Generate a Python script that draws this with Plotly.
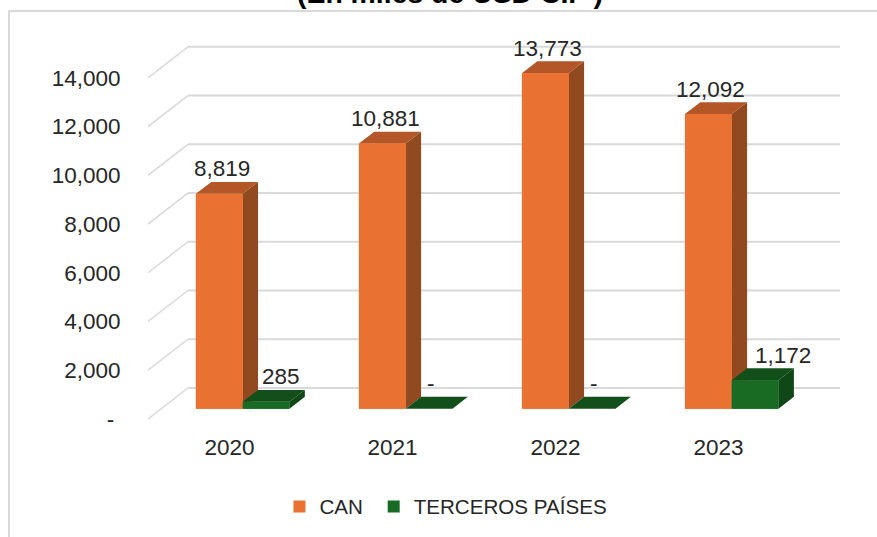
import plotly.graph_objects as go

# Data
years = ['2020', '2021', '2022', '2023']
can = [8819, 10881, 13773, 12092]
terceros = [285, 0, 0, 1172]
can_labels = ['8,819', '10,881', '13,773', '12,092']
terceros_labels = ['285', '-', '-', '1,172']
y_ticks = [0, 2000, 4000, 6000, 8000, 10000, 12000, 14000]
y_tick_labels = ['-\u00a0', '2,000', '4,000', '6,000', '8,000', '10,000', '12,000', '14,000']

# Fake 3D projection, in axis units (category spacing / y value)
WALL_DX = 0.245
WALL_DY = 1272
BAR_START = 0.33  # depth of the bar front, 0 = floor edge, 1 = back wall
BAR_DEPTH = 0.385
BAR_WIDTH = 0.287

FONT = 'Liberation Sans'
GREY = '#d9d9d9'
TEXT = '#262626'
TICK_SIZE = 22.5

bar_base = BAR_START * WALL_DY
bar_shift = BAR_START * WALL_DX
side_dx = BAR_DEPTH * WALL_DX
side_dy = BAR_DEPTH * WALL_DY


def faces(values, offset):
    # front, top and side polygons of each bar, separated by None
    front_x, front_y, top_x, top_y, side_x, side_y = [], [], [], [], [], []
    for i, v in enumerate(values):
        x0 = i + bar_shift + offset
        x1 = x0 + BAR_WIDTH
        y0 = bar_base
        y1 = bar_base + v
        front_x += [x0, x1, x1, x0, x0, None]
        front_y += [y0, y0, y1, y1, y0, None]
        top_x += [x0, x1, x1 + side_dx, x0 + side_dx, x0, None]
        top_y += [y1, y1, y1 + side_dy, y1 + side_dy, y1, None]
        side_x += [x1, x1 + side_dx, x1 + side_dx, x1, x1, None]
        side_y += [y0, y0 + side_dy, y1 + side_dy, y1, y0, None]
    return (front_x, front_y), (top_x, top_y), (side_x, side_y)


fig = go.Figure()

# trailing space on CAN sets the gap between the two legend entries
series = [
    ('CAN\u00a0', can, -BAR_WIDTH, '#E97132', '#B35628', '#914A1F'),
    ('TERCEROS PAÍSES', terceros, 0, '#196B24', '#134F1B', '#0F4716'),
]
for name, values, offset, front, top, side in series:
    fig.add_trace(go.Bar(
        x=list(range(len(years))),
        y=values,
        base=bar_base,
        width=BAR_WIDTH,
        offset=offset + bar_shift,
        name=name,
        marker=dict(color=front, line=dict(width=0)),
    ))
    # scatter draws above bars, so the front goes again to cover the neighbour's side
    front_poly, top_poly, side_poly = faces(values, offset)
    for poly, color in [(side_poly, side), (top_poly, top), (front_poly, front)]:
        fig.add_trace(go.Scatter(
            x=poly[0], y=poly[1], mode='lines', fill='toself', fillcolor=color,
            line=dict(width=0), hoverinfo='skip', showlegend=False,
        ))

# Gridlines run along the floor edge and then across the back wall
for tick in y_ticks:
    fig.add_shape(type='line', layer='below', x0=-0.5, y0=tick,
                  x1=-0.5 + WALL_DX, y1=tick + WALL_DY,
                  line=dict(color=GREY, width=1.5))
    fig.add_shape(type='line', layer='below', x0=-0.5 + WALL_DX, y0=tick + WALL_DY,
                  x1=3.5 + WALL_DX, y1=tick + WALL_DY,
                  line=dict(color=GREY, width=2))

# Data labels
can_nudge = [3, 3, 2, 2.5]
terceros_nudge = [14.5, 2, 2, 28]
for i in range(len(years)):
    x_can = i + bar_shift - BAR_WIDTH / 2
    x_ter = i + bar_shift + BAR_WIDTH / 2
    fig.add_annotation(x=x_can, y=bar_base + can[i], text=can_labels[i], showarrow=False,
                       xshift=can_nudge[i], yshift=25, font=dict(family=FONT, size=TICK_SIZE, color=TEXT))
    fig.add_annotation(x=x_ter, y=bar_base + terceros[i], text=terceros_labels[i], showarrow=False,
                       xshift=terceros_nudge[i], yshift=25, font=dict(family=FONT, size=TICK_SIZE, color=TEXT))

# Title, cut by the top of the picture like the reference
fig.add_annotation(xref='paper', yref='paper', x=0.4364, y=1, yshift=33,
                   text='<b>(En miles de USD CIF )</b>', showarrow=False, yanchor='bottom',
                   font=dict(family=FONT, size=28.4, color='#000000'))

# Outer frame of the chart, open to the right and bottom like the crop
fig.add_shape(type='line', xref='paper', yref='paper', x0=-0.2009, y0=1.088, x1=1.0535, y1=1.088,
              line=dict(color=GREY, width=2))
fig.add_shape(type='line', xref='paper', yref='paper', x0=-0.2009, y0=1.088, x1=-0.2009, y1=-0.315,
              line=dict(color=GREY, width=2))

fig.update_layout(
    width=877,
    height=537,
    margin=dict(l=148, r=37, t=44, b=118, autoexpand=False),
    paper_bgcolor='white',
    plot_bgcolor='white',
    barmode='overlay',
    font=dict(family=FONT, size=TICK_SIZE, color=TEXT),
    showlegend=True,
    legend=dict(orientation='h', xanchor='left', x=0.19, yanchor='top', y=-0.18,
                font=dict(family=FONT, size=20.6, color=TEXT)),
    xaxis=dict(
        range=[-0.5, 3.5 + WALL_DX],
        tickmode='array',
        tickvals=list(range(len(years))),
        ticktext=years,
        ticks='outside',
        ticklen=8,
        tickcolor='rgba(0,0,0,0)',
        showgrid=False,
        zeroline=False,
        showline=False,
        tickfont=dict(family=FONT, size=TICK_SIZE, color=TEXT),
    ),
    yaxis=dict(
        range=[0, 15388],
        tickmode='array',
        tickvals=y_ticks,
        ticktext=y_tick_labels,
        ticks='outside',
        ticklen=22,
        tickcolor='rgba(0,0,0,0)',
        showgrid=False,
        zeroline=False,
        showline=False,
        tickfont=dict(family=FONT, size=TICK_SIZE, color=TEXT),
    ),
)

# Page margin off so the picture starts at the window corner
fig.write_html('out.html', config=dict(displayModeBar=False),
               post_script="document.body.style.margin='0';")
